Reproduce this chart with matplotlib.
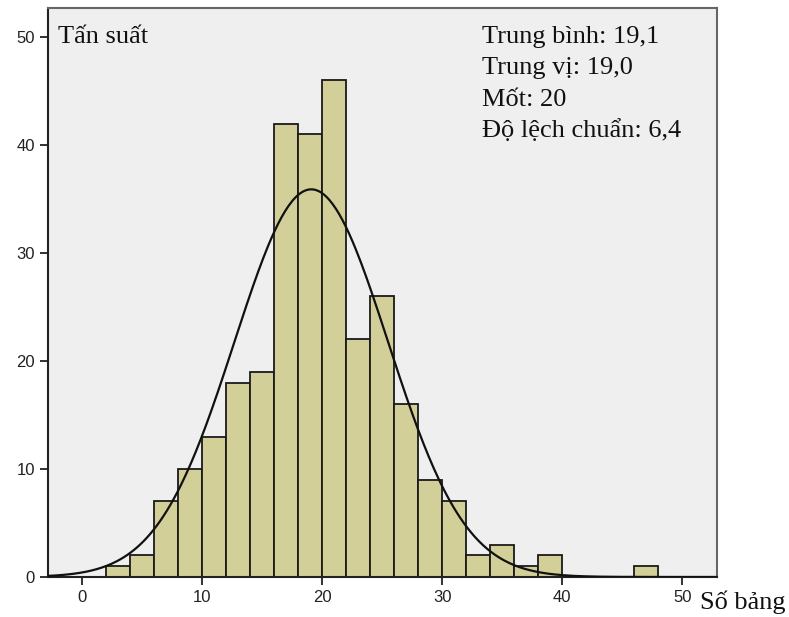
import numpy as np
import matplotlib.pyplot as plt

# Tần suất theo từng khoảng (độ rộng khoảng = 2)
bin_edges = np.arange(2, 50, 2)
counts = [1, 2, 7, 10, 13, 18, 19, 42, 41, 46, 22, 26, 16, 9, 7, 2, 3, 1, 2, 0, 0, 0, 1]

mean_val = 19.1
median_val = 19.0
mode_val = 20
sd_val = 6.4

x_ticks = [0, 10, 20, 30, 40, 50]
y_ticks = [0, 10, 20, 30, 40, 50]

fig = plt.figure(figsize=(7.89, 6.17), dpi=100)
ax = fig.add_axes([48 / 789, 1 - 577 / 617, (717 - 48) / 789, (577 - 8) / 617])
ax.set_facecolor('#efefef')

widths = np.diff(bin_edges)
ax.bar(bin_edges[:-1], counts, width=widths, align='edge',
       color='#d3cf99', edgecolor='#1a1a1a', linewidth=1.3, zorder=2)

# Đường cong phân phối chuẩn
n = sum(counts)
bw = widths[0]
xs = np.linspace(-3, 53, 400)
ys = n * bw / (sd_val * np.sqrt(2 * np.pi)) * np.exp(-0.5 * ((xs - mean_val) / sd_val) ** 2)
ax.plot(xs, ys, color='#111111', lw=1.6, zorder=3)

ax.set_xlim(-2.83, 52.9)
ax.set_ylim(0, 52.7)
ax.set_xticks(x_ticks)
ax.set_yticks(y_ticks)
ax.tick_params(direction='out', length=6, width=1.3, labelsize=12, colors='#222222')
for lbl in ax.get_xticklabels() + ax.get_yticklabels():
    lbl.set_family('Liberation Sans')
for side in ['left', 'bottom']:
    ax.spines[side].set_color('#222222')
    ax.spines[side].set_linewidth(1.5)
for side in ['top', 'right']:
    ax.spines[side].set_color('#666666')
    ax.spines[side].set_linewidth(1.5)

serif = 'Liberation Serif'
fs = 19
fig.text(58 / 789, 1 - 43 / 617, 'Tấn suất', ha='left', va='baseline',
         family=serif, fontsize=fs, color='#111111')

stats = [f'Trung bình: {mean_val:.1f}'.replace('.', ','),
         f'Trung vị: {median_val:.1f}'.replace('.', ','),
         f'Mốt: {mode_val}',
         f'Độ lệch chuẩn: {sd_val:.1f}'.replace('.', ',')]
for i, s in enumerate(stats):
    fig.text(482 / 789, 1 - (43 + 31.3 * i) / 617, s, ha='left', va='baseline',
             family=serif, fontsize=fs, color='#111111')

fig.text(700 / 789, 1 - 609 / 617, 'Số bảng', ha='left', va='baseline',
         family=serif, fontsize=fs, color='#111111')

fig.savefig('out.png', dpi=100)
